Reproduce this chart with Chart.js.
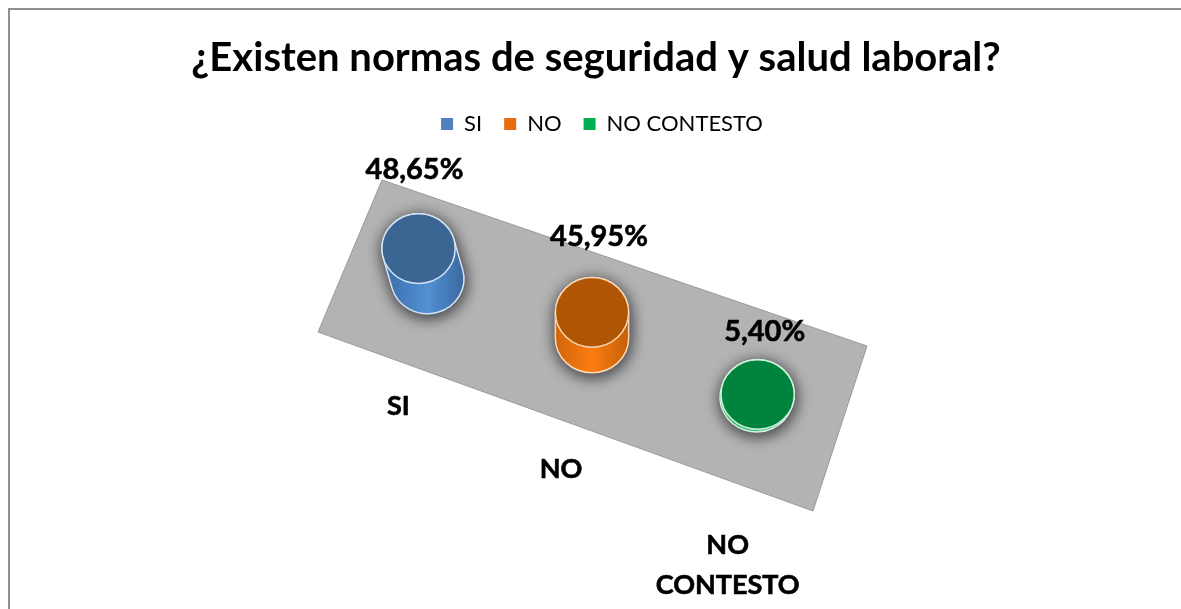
<!DOCTYPE html>
<html>
<head>
<meta charset="utf-8">
<title>Normas de seguridad</title>
<style>
  html, body { margin: 0; padding: 0; background: #fff; overflow: hidden; }
  #chart { display: block; }
</style>
<script src="https://cdn.jsdelivr.net/npm/chart.js@4/dist/chart.umd.min.js"></script>
</head>
<body>
<canvas id="chart" width="1181" height="609"></canvas>
<script>
const categories = ['SI', 'NO', ['NO', 'CONTESTO']];
const percentValues = [48.65, 45.95, 5.40];
const titleText = '¿Existen normas de seguridad y salud laboral?';

const FONT = 'Lato, "Open Sans", sans-serif';

// colores de cada cilindro: leyenda, tapa, lateral y borde
const legendColors = ['#4f81bd', '#e96c0e', '#00b050'];
const capColors = ['#3b6593', '#b05504', '#00843d'];
const sideColors = [
    ['#3f72b0', '#5290d4', '#3a689f'],
    ['#d0650a', '#fb7d10', '#c45f08'],
    ['#2fae6c', '#4cc488', '#2fae6c']
];
const rimColors = ['#d3e4f5', '#f9d7b4', '#d2f2de'];

// suelo gris en perspectiva y desplazamiento de los textos
const floorCorners = [[382, 180], [867, 346], [813, 511], [318, 332]];
const nadir = { x: 592, y: 845 };
const floorShear = 0.359;
const liftAtMax = 0.11;
const valueOffsets = [[-4, -79], [7, -76], [7, -63]];
const labelOffsets = [[-29, 127], [-31, 131], [-29, 148]];
const labelLineHeight = 40;

function drawCylinder(ctx, base, top, rx, ry, i) {
    const t0 = Math.atan(-(ry * (top.x - base.x)) / (rx * (top.y - base.y)));
    const hull = () => {
        ctx.beginPath();
        ctx.ellipse(base.x, base.y, rx, ry, 0, t0, t0 + Math.PI);
        ctx.ellipse(top.x, top.y, rx, ry, 0, t0 + Math.PI, t0 + 2 * Math.PI);
        ctx.closePath();
    };

    const gradient = ctx.createLinearGradient(base.x - rx, 0, base.x + rx, 0);
    gradient.addColorStop(0, sideColors[i][0]);
    gradient.addColorStop(0.5, sideColors[i][1]);
    gradient.addColorStop(1, sideColors[i][2]);

    // sombra difusa gris alrededor del cilindro
    ctx.save();
    ctx.shadowColor = 'rgba(70, 70, 75, 0.85)';
    ctx.shadowBlur = 16;
    ctx.shadowOffsetY = 3;
    ctx.shadowOffsetX = 1;
    ctx.fillStyle = gradient;
    for (let pass = 0; pass < 2; pass++) {
        hull();
        ctx.fill();
    }
    ctx.restore();

    ctx.strokeStyle = rimColors[i];
    ctx.lineWidth = 1.5;
    hull();
    ctx.stroke();

    ctx.beginPath();
    ctx.ellipse(top.x, top.y, rx, ry, 0, 0, 2 * Math.PI);
    ctx.fillStyle = capColors[i];
    ctx.fill();
    ctx.stroke();
}

const cylinderPlugin = {
    id: 'cylinders',
    afterLayout(chart) {
        // la leyenda va algo a la derecha del titulo
        chart.legend.left += 6;
        chart.legend.right += 6;
    },
    beforeDraw(chart) {
        // marco: solo linea superior e izquierda
        const ctx = chart.ctx;
        ctx.save();
        ctx.strokeStyle = '#8f8f8f';
        ctx.lineWidth = 2;
        ctx.beginPath();
        ctx.moveTo(9, chart.height);
        ctx.lineTo(9, 9);
        ctx.lineTo(chart.width, 9);
        ctx.stroke();
        ctx.restore();
    },
    afterDatasetsDraw(chart) {
        const ctx = chart.ctx;
        const area = chart.chartArea;
        const bars = chart.getDatasetMeta(0).data;
        const centerX = (area.left + area.right) / 2;

        ctx.save();
        ctx.beginPath();
        floorCorners.forEach(p => ctx.lineTo(p[0], p[1]));
        ctx.closePath();
        ctx.fillStyle = '#b3b3b3';
        ctx.fill();
        ctx.strokeStyle = '#9a9a9a';
        ctx.lineWidth = 1;
        ctx.stroke();

        ctx.textAlign = 'center';
        ctx.textBaseline = 'middle';

        const tops = bars.map((bar, i) => {
            const base = { x: bar.x, y: bar.base + floorShear * (bar.x - centerX) };
            const lift = (bar.base - bar.y) / area.height * liftAtMax;
            const top = {
                x: base.x + (base.x - nadir.x) * lift,
                y: base.y + (base.y - nadir.y) * lift
            };
            const rx = bar.width / 2;
            drawCylinder(ctx, base, top, rx, rx * 0.95, i);
            return { base, top };
        });

        // los textos encima de todos los cilindros
        ctx.fillStyle = '#000';
        ctx.strokeStyle = '#000';
        ctx.lineWidth = 0.6;
        tops.forEach(({ base, top }, i) => {
            ctx.font = 'bold 29px ' + FONT;
            const text = percentValues[i].toFixed(2).replace('.', ',') + '%';
            ctx.fillText(text, top.x + valueOffsets[i][0], top.y + valueOffsets[i][1]);
            ctx.strokeText(text, top.x + valueOffsets[i][0], top.y + valueOffsets[i][1]);

            ctx.font = 'bold 27px ' + FONT;
            [].concat(categories[i]).forEach((line, n) => {
                const y = base.y + labelOffsets[i][1] + n * labelLineHeight;
                ctx.fillText(line, base.x + labelOffsets[i][0], y);
                ctx.strokeText(line, base.x + labelOffsets[i][0], y);
            });
        });
        ctx.restore();
    }
};

new Chart(document.getElementById('chart'), {
    type: 'bar',
    data: {
        labels: categories,
        datasets: [{
            label: 'Respuestas',
            data: percentValues,
            backgroundColor: 'transparent',
            categoryPercentage: 0.445,
            barPercentage: 1
        }]
    },
    plugins: [cylinderPlugin],
    options: {
        responsive: false,
        animation: false,
        layout: { padding: { left: 11 } },
        plugins: {
            tooltip: { enabled: false },
            title: {
                display: true,
                text: titleText,
                color: '#000',
                font: { family: FONT, size: 40, weight: 'bold' },
                padding: { top: 34, bottom: 9 }
            },
            legend: {
                position: 'top',
                onClick: null,
                labels: {
                    color: '#000',
                    font: { family: FONT, size: 22 },
                    boxWidth: 12,
                    boxHeight: 12,
                    padding: 22,
                    generateLabels: () => categories.map((c, i) => ({
                        text: [].concat(c).join(' '),
                        fillStyle: legendColors[i],
                        strokeStyle: legendColors[i],
                        lineWidth: 0,
                        index: i
                    }))
                }
            }
        },
        scales: {
            x: {
                ticks: { display: false },
                grid: { display: false },
                border: { display: false },
                afterFit: s => { s.height = 271; }
            },
            y: {
                min: 0,
                max: 100,
                ticks: { display: false },
                grid: { display: false },
                border: { display: false },
                afterFit: s => { s.width = 334; }
            },
            rightSpace: {
                position: 'right',
                ticks: { display: false },
                grid: { display: false },
                border: { display: false },
                afterFit: s => { s.width = 342; }
            }
        }
    }
});
</script>
</body>
</html>
